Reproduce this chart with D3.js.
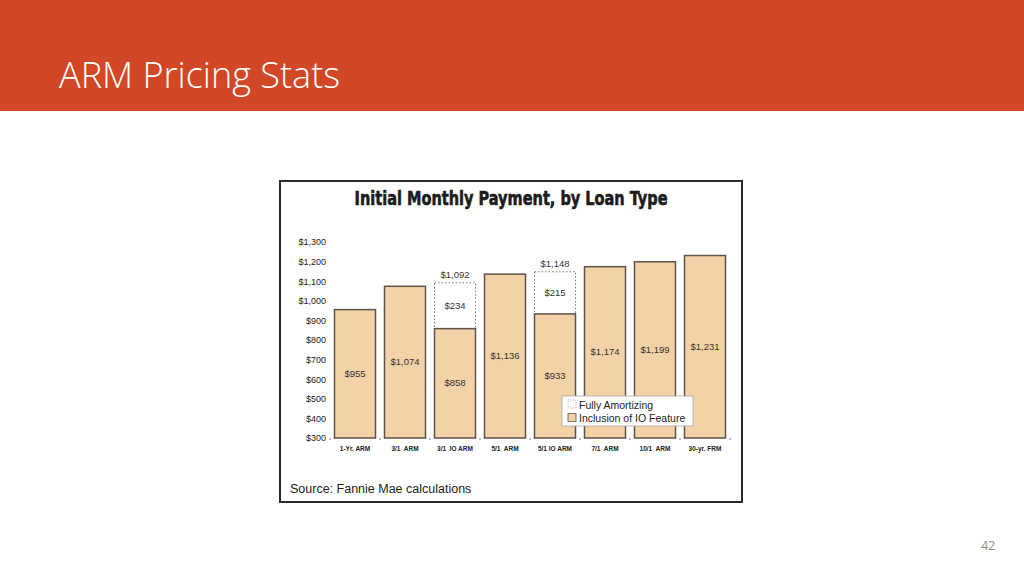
<!DOCTYPE html>
<html>
<head>
<meta charset="utf-8">
<script src="https://cdn.jsdelivr.net/npm/d3@7"></script>
<style>
  body { margin: 0; background: #fff; }
  svg { display: block; }
</style>
</head>
<body>
<svg id="slide" width="1024" height="576"></svg>
<script>
// chart data
const loanTypes = ['1-Yr. ARM', '3/1  ARM', '3/1  IO ARM', '5/1  ARM', '5/1 IO ARM', '7/1  ARM', '10/1  ARM', '30-yr. FRM']
const ioPayment = [955, 1074, 858, 1136, 933, 1174, 1199, 1231]
const fullyAmortizing = [null, null, 1092, null, 1148, null, null, null]
const yTicks = [300, 400, 500, 600, 700, 800, 900, 1000, 1100, 1200, 1300]
const legendItems = ['Fully Amortizing', 'Inclusion of IO Feature']

const BAR_FILL = '#f3d2a7'
const BAR_STROKE = '#5e544b'
const fmt = d3.format('$,')

const svg = d3.select('#slide')

// slide header
svg.append('rect')
    .attr('width', 1024).attr('height', 111)
    .attr('fill', '#d24726')
svg.append('text')
    .attr('x', 59).attr('y', 88)
    .attr('fill', '#fff')
    .attr('font-family', '"Open Sans", sans-serif')
    .attr('font-weight', 300)
    .attr('font-size', 36)
    .attr('textLength', 281)
    .attr('lengthAdjust', 'spacingAndGlyphs')
    .text('ARM Pricing Stats')

svg.append('text')
    .attr('x', 995).attr('y', 550)
    .attr('text-anchor', 'end')
    .attr('fill', '#8a8a8a')
    .attr('font-family', '"Open Sans", sans-serif')
    .attr('font-size', 12)
    .text('42')

// framed chart picture
const frame = svg.append('g')
frame.append('rect')
    .attr('x', 280).attr('y', 181)
    .attr('width', 462).attr('height', 321)
    .attr('fill', '#fff')
    .attr('stroke', '#2b2b2b')
    .attr('stroke-width', 2)

frame.append('text')
    .attr('x', 511).attr('y', 205)
    .attr('text-anchor', 'middle')
    .attr('fill', '#1c1c1c')
    .attr('font-family', '"Liberation Sans Narrow", "DejaVu Sans Condensed", sans-serif')
    .attr('font-weight', 'bold')
    .attr('font-size', 20)
    .attr('stroke', '#1c1c1c')
    .attr('stroke-width', 0.6)
    .attr('textLength', 313)
    .attr('lengthAdjust', 'spacingAndGlyphs')
    .text('Initial Monthly Payment, by Loan Type')

const x = d3.scaleBand()
    .domain(loanTypes)
    .range([330, 730])
    .paddingInner(0.18)
    .paddingOuter(0.09)

const y = d3.scaleLinear()
    .domain([300, 1300])
    .range([438, 242])

// y axis, labels only
const yAxis = frame.append('g')
    .attr('transform', 'translate(330,0)')
    .call(d3.axisLeft(y).tickValues(yTicks).tickFormat(fmt).tickSize(0).tickPadding(4))
yAxis.select('.domain').remove()
yAxis.selectAll('text')
    .attr('font-family', '"Liberation Sans", Arial, sans-serif')
    .attr('font-size', 9)
    .attr('fill', '#222')

// tiny tick marks at the band edges along the bottom
const edges = d3.range(loanTypes.length + 1).map(i => x.range()[0] + i * x.step())
frame.append('g')
    .selectAll('line')
    .data(edges)
    .join('line')
    .attr('x1', d => d).attr('x2', d => d)
    .attr('y1', y(300)).attr('y2', y(300) + 2)
    .attr('stroke', '#777')
    .attr('stroke-width', 1)

const rows = loanTypes.map((name, i) => ({ name, io: ioPayment[i], full: fullyAmortizing[i] }))

const gBars = frame.append('g')

// dotted boxes for the fully amortizing payment
const withFull = rows.filter(d => d.full != null)
gBars.selectAll('rect.full')
    .data(withFull)
    .join('rect')
    .attr('class', 'full')
    .attr('x', d => x(d.name))
    .attr('y', d => y(d.full))
    .attr('width', x.bandwidth())
    .attr('height', d => y(d.io) - y(d.full))
    .attr('fill', '#fff')
    .attr('stroke', '#777')
    .attr('stroke-width', 1)
    .attr('stroke-dasharray', '1.5,2')

gBars.selectAll('rect.io')
    .data(rows)
    .join('rect')
    .attr('class', 'io')
    .attr('x', d => x(d.name))
    .attr('y', d => y(d.io))
    .attr('width', x.bandwidth())
    .attr('height', d => y(300) - y(d.io))
    .attr('fill', BAR_FILL)
    .attr('stroke', BAR_STROKE)
    .attr('stroke-width', 1.5)

const labelStyle = sel => sel
    .attr('text-anchor', 'middle')
    .attr('font-family', '"Liberation Sans", Arial, sans-serif')
    .attr('font-size', 9.5)
    .attr('fill', '#333')

gBars.selectAll('text.io')
    .data(rows)
    .join('text')
    .attr('class', 'io')
    .attr('x', d => x(d.name) + x.bandwidth() / 2)
    .attr('y', d => (y(d.io) + y(300)) / 2 + 3)
    .call(labelStyle)
    .text(d => fmt(d.io))

gBars.selectAll('text.diff')
    .data(withFull)
    .join('text')
    .attr('class', 'diff')
    .attr('x', d => x(d.name) + x.bandwidth() / 2)
    .attr('y', d => (y(d.io) + y(d.full)) / 2 + 3)
    .call(labelStyle)
    .text(d => fmt(d.full - d.io))

gBars.selectAll('text.full')
    .data(withFull)
    .join('text')
    .attr('class', 'full')
    .attr('x', d => x(d.name) + x.bandwidth() / 2)
    .attr('y', d => y(d.full) - 5)
    .call(labelStyle)
    .text(d => fmt(d.full))

// category labels
frame.append('g')
    .selectAll('text')
    .data(loanTypes)
    .join('text')
    .attr('x', d => x(d) + x.bandwidth() / 2)
    .attr('y', 451)
    .attr('text-anchor', 'middle')
    .attr('font-family', '"Liberation Sans", Arial, sans-serif')
    .attr('font-weight', 'bold')
    .attr('font-size', 6.5)
    .attr('fill', '#222')
    .style('white-space', 'pre')
    .text(d => d)

// legend
const legend = frame.append('g').attr('transform', 'translate(562,396)')
legend.append('rect')
    .attr('width', 131).attr('height', 30)
    .attr('fill', '#fff')
    .attr('stroke', '#aaa')
    .attr('stroke-width', 0.8)
const li = legend.selectAll('g.item')
    .data(legendItems)
    .join('g')
    .attr('class', 'item')
    .attr('transform', (d, i) => `translate(6,${4 + i * 13.5})`)
li.append('rect')
    .attr('width', 8).attr('height', 8)
    .attr('fill', (d, i) => i === 0 ? '#fff' : BAR_FILL)
    .attr('stroke', (d, i) => i === 0 ? '#999' : BAR_STROKE)
    .attr('stroke-width', 0.8)
    .attr('stroke-dasharray', (d, i) => i === 0 ? '1,1.5' : null)
li.append('text')
    .attr('x', 11).attr('y', 8.5)
    .attr('font-family', '"Liberation Sans", Arial, sans-serif')
    .attr('font-size', 10.5)
    .attr('fill', '#222')
    .text(d => d)

frame.append('text')
    .attr('x', 290).attr('y', 493)
    .attr('font-family', '"Liberation Sans", Arial, sans-serif')
    .attr('font-size', 12.5)
    .attr('fill', '#222')
    .text('Source: Fannie Mae calculations')
</script>
</body>
</html>
